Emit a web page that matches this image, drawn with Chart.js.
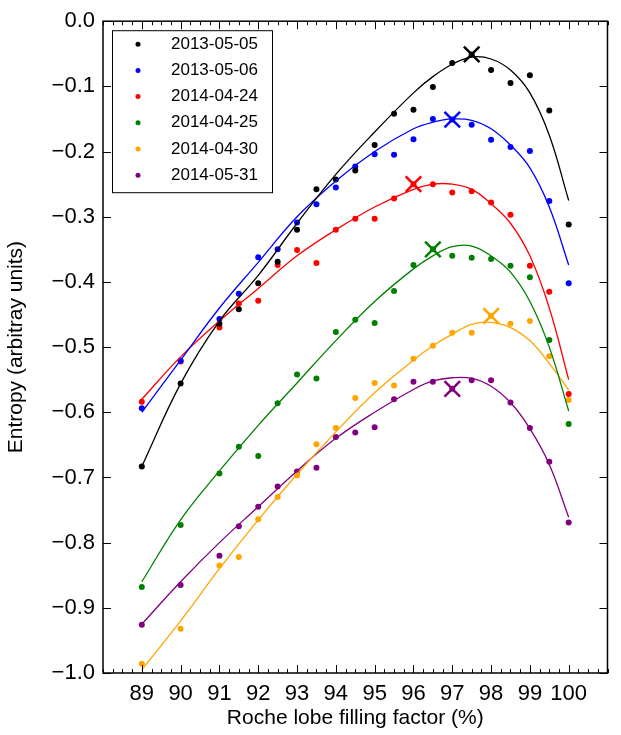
<!DOCTYPE html>
<html>
<head>
<meta charset="utf-8">
<script src="https://cdn.jsdelivr.net/npm/chart.js@4/dist/chart.umd.min.js"></script>
<style>
  body { margin: 0; background: #fff; }
  #wrap { width: 621px; height: 735px; }
</style>
</head>
<body>
<div id="wrap"><canvas id="c"></canvas></div>
<script>
// observation dates and colours
const labels = ['2013-05-05', '2013-05-06', '2014-04-24', '2014-04-25', '2014-04-30', '2014-05-31'];
const colors = ['#000000', '#0000ff', '#ff0000', '#008000', '#ffa500', '#800080'];

// filling factor (%) for the measured points
const fillX = [89, 90, 91, 91.5, 92, 92.5, 93, 93.5, 94, 94.5, 95, 95.5, 96, 96.5, 97, 97.5, 98, 98.5, 99, 99.5, 100];

// measured entropy values
const black  = [-0.683, -0.556, -0.464, -0.442, -0.402, -0.369, -0.320, -0.258, -0.243, -0.229, -0.190, -0.142, -0.136, -0.101, -0.064, -0.051, -0.075, -0.095, -0.083, -0.137, -0.312];
const blue   = [-0.594, -0.521, -0.457, -0.418, -0.362, -0.350, -0.309, -0.281, -0.255, -0.223, -0.204, -0.205, -0.181, -0.150, -0.151, -0.159, -0.182, -0.193, -0.199, -0.276, -0.402];
const red    = [-0.584, -0.522, -0.470, -0.433, -0.429, -0.374, -0.351, -0.371, -0.320, -0.303, -0.303, -0.272, -0.250, -0.250, -0.263, -0.261, -0.278, -0.297, -0.375, -0.415, -0.572];
const green  = [-0.868, -0.773, -0.694, -0.653, -0.667, -0.586, -0.542, -0.548, -0.477, -0.458, -0.463, -0.414, -0.374, -0.350, -0.360, -0.363, -0.365, -0.375, -0.393, -0.489, -0.618];
const orange = [-0.986, -0.932, -0.835, -0.822, -0.764, -0.730, -0.697, -0.649, -0.624, -0.578, -0.555, -0.559, -0.518, -0.498, -0.478, -0.478, -0.452, -0.464, -0.460, -0.514, -0.581];
const purple = [-0.926, -0.865, -0.820, -0.775, -0.745, -0.714, -0.691, -0.685, -0.638, -0.631, -0.623, -0.580, -0.553, -0.553, -0.564, -0.551, -0.551, -0.585, -0.624, -0.676, -0.769];

// fitted curves
const fitX = [89, 90, 91, 92, 93, 94, 95, 96, 96.5, 97, 97.5, 98, 98.5, 99, 99.5, 100];
const fitBlack  = [-0.683, -0.556, -0.460, -0.390, -0.310, -0.235, -0.170, -0.110, -0.085, -0.066, -0.055, -0.058, -0.075, -0.110, -0.175, -0.275];
const fitBlue   = [-0.600, -0.520, -0.440, -0.370, -0.300, -0.245, -0.200, -0.165, -0.155, -0.150, -0.152, -0.165, -0.190, -0.225, -0.285, -0.374];
const fitRed    = [-0.580, -0.515, -0.460, -0.410, -0.360, -0.320, -0.285, -0.258, -0.250, -0.250, -0.258, -0.280, -0.310, -0.360, -0.440, -0.550];
const fitGreen  = [-0.860, -0.765, -0.690, -0.620, -0.555, -0.490, -0.430, -0.380, -0.360, -0.346, -0.345, -0.360, -0.385, -0.430, -0.500, -0.598];
const fitOrange = [-0.995, -0.920, -0.840, -0.765, -0.695, -0.630, -0.570, -0.520, -0.498, -0.480, -0.465, -0.462, -0.470, -0.490, -0.525, -0.566];
const fitPurple = [-0.925, -0.860, -0.800, -0.745, -0.690, -0.640, -0.600, -0.565, -0.552, -0.547, -0.548, -0.560, -0.585, -0.625, -0.680, -0.761];

// entropy maxima (cross markers)
const peakX = [97.5, 97.0, 96.0, 96.5, 98.0, 97.0];
const peakY = [-0.051, -0.151, -0.250, -0.350, -0.452, -0.564];

const xTicks = [89, 90, 91, 92, 93, 94, 95, 96, 97, 98, 99, 100];

const pointSets = [black, blue, red, green, orange, purple];
const fitSets = [fitBlack, fitBlue, fitRed, fitGreen, fitOrange, fitPurple];
const FONT = '"Liberation Sans", Arial, sans-serif';

const datasets = [];
fitSets.forEach((fit, i) => {
    datasets.push({
        label: 'fit ' + labels[i],
        data: fitX.map((x, j) => ({ x: x, y: fit[j] })),
        showLine: true,
        borderColor: colors[i],
        borderWidth: 1.3,
        pointRadius: 0,
        tension: 0.4
    });
});
pointSets.forEach((vals, i) => {
    datasets.push({
        label: labels[i],
        data: fillX.map((x, j) => ({ x: x, y: vals[j] })),
        showLine: false,
        backgroundColor: colors[i],
        borderColor: colors[i],
        pointRadius: 3,
        borderWidth: 0
    });
});
peakX.forEach((x, i) => {
    datasets.push({
        label: 'peak ' + labels[i],
        data: [{ x: x, y: peakY[i] }],
        showLine: false,
        pointStyle: 'crossRot',
        pointRadius: 11,
        borderWidth: 2.5,
        borderColor: colors[i]
    });
});

// inward major/minor ticks and legend box, matplotlib style
const frame = {
    id: 'frame',
    afterDraw(chart) {
        const { ctx, chartArea: a, scales } = chart;
        ctx.save();
        ctx.strokeStyle = '#000';
        ctx.lineWidth = 1;
        for (let v = 88; v <= 101.001; v += 0.25) {
            const px = Math.round(scales.x.getPixelForValue(v)) + 0.5;
            const major = Math.abs(v - Math.round(v)) < 0.01 && v >= 89 && v <= 100;
            const len = major ? 8 : 4;
            ctx.beginPath();
            ctx.moveTo(px, a.bottom); ctx.lineTo(px, a.bottom - len);
            ctx.moveTo(px, a.top); ctx.lineTo(px, a.top + len);
            ctx.stroke();
        }
        for (let k = 0; k <= 10; k++) {
            const py = Math.round(scales.y.getPixelForValue(-k / 10)) + 0.5;
            ctx.beginPath();
            ctx.moveTo(a.left, py); ctx.lineTo(a.left + 8, py);
            ctx.moveTo(a.right, py); ctx.lineTo(a.right - 8, py);
            ctx.stroke();
        }
        ctx.lineWidth = 1.5;
        ctx.strokeRect(a.left, a.top, a.right - a.left, a.bottom - a.top);

        // legend
        const lx = a.left + 9, ly = a.top + 9;
        ctx.fillStyle = '#fff';
        ctx.fillRect(lx, ly, 160, 162);
        ctx.lineWidth = 1;
        ctx.strokeRect(lx + 0.5, ly + 0.5, 160, 162);
        ctx.font = '17px ' + FONT;
        ctx.textBaseline = 'middle';
        labels.forEach((lab, i) => {
            const y = ly + 14 + i * 26.2;
            ctx.fillStyle = colors[i];
            ctx.beginPath();
            ctx.arc(lx + 26, y, 2.5, 0, Math.PI * 2);
            ctx.fill();
            ctx.fillStyle = '#000';
            ctx.fillText(lab, lx + 59, y);
        });
        ctx.restore();
    }
};

new Chart(document.getElementById('c'), {
    type: 'scatter',
    data: { datasets: datasets },
    options: {
        responsive: true,
        maintainAspectRatio: false,
        animation: false,
        layout: { padding: { top: 13, right: 5, left: 0, bottom: 0 } },
        plugins: { legend: { display: false }, tooltip: { enabled: false } },
        scales: {
            x: {
                type: 'linear',
                min: 88,
                max: 101,
                afterBuildTicks: (s) => { s.ticks = xTicks.map(v => ({ value: v })); },
                afterFit: (s) => { s.height = 62; },
                grid: { display: false, drawTicks: false },
                border: { display: false },
                ticks: {
                    color: '#000',
                    padding: 8,
                    maxRotation: 0,
                    font: { size: 22, family: FONT },
                    callback: (v) => String(v)
                },
                title: {
                    display: true,
                    text: 'Roche lobe filling factor (%)',
                    color: '#000',
                    font: { size: 21, family: FONT },
                    padding: { top: 2, bottom: 4 }
                }
            },
            y: {
                min: -1.0,
                max: 0.0,
                afterFit: (s) => { s.width = 103; },
                grid: { display: false, drawTicks: false },
                border: { display: false },
                ticks: {
                    stepSize: 0.1,
                    color: '#000',
                    padding: 8,
                    font: { size: 22, family: FONT },
                    callback: (v) => {
                        const s = Math.abs(v).toFixed(1);
                        return v < -1e-9 ? '\u2212' + s : s;
                    }
                },
                title: {
                    display: true,
                    text: 'Entropy (arbitray units)',
                    color: '#000',
                    font: { size: 21, family: FONT },
                    padding: { top: 4, bottom: 4 }
                }
            }
        }
    },
    plugins: [frame]
});
</script>
</body>
</html>
